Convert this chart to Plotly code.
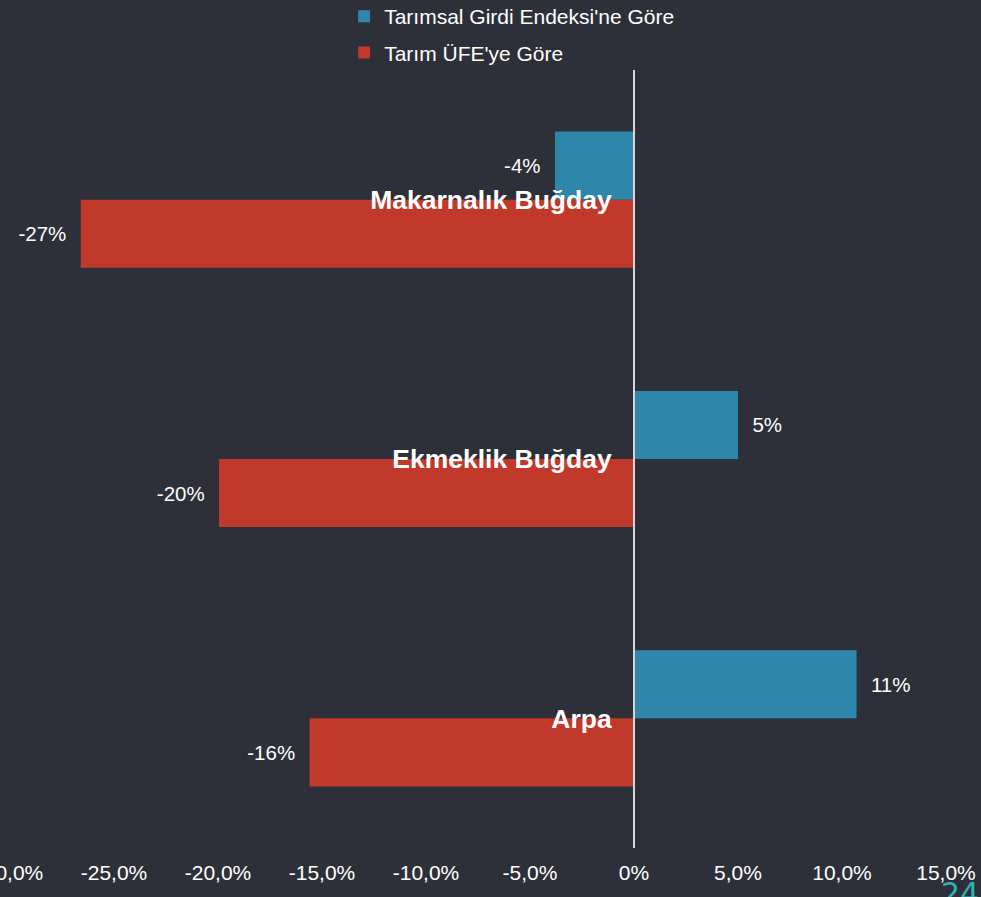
import plotly.graph_objects as go

categories = ["Makarnalık Buğday", "Ekmeklik Buğday", "Arpa"]
series_names = ["Tarımsal Girdi Endeksi'ne Göre", "Tarım ÜFE'ye Göre"]
girdi_values = [-3.8, 5.0, 10.7]
ufe_values = [-26.6, -19.95, -15.6]
tick_vals = [-30, -25, -20, -15, -10, -5, 0, 5, 10, 15]
tick_text = ["-30,0%", "-25,0%", "-20,0%", "-15,0%", "-10,0%", "-5,0%", "0%", "5,0%", "10,0%", "15,0%"]
page_number = "24"

BG = "#2d3038"
BLUE = "#2e87ab"
RED = "#c0392b"
FONT = "Liberation Sans, Arial, sans-serif"
PAD = "\u00a0\u00a0"


def labels(vals):
    out = []
    for v in vals:
        s = f"{v:.0f}%"
        out.append(s + PAD if v < 0 else PAD + s)
    return out


fig = go.Figure()
for name, vals, col, grp in [(series_names[0], girdi_values, BLUE, "a"),
                             (series_names[1], ufe_values, RED, "b")]:
    fig.add_trace(go.Bar(
        y=categories, x=vals, orientation="h", name=name,
        marker=dict(color=col, line=dict(width=0)),
        text=labels(vals), textposition="outside", cliponaxis=False,
        textfont=dict(color="white", size=20.5, family=FONT),
        legendgroup=grp,
    ))

xr = [-30.001, 15.001]
fig.update_layout(
    width=981, height=897,
    paper_bgcolor=BG, plot_bgcolor=BG,
    margin=dict(l=10, r=35, t=70, b=49, autoexpand=False),
    barmode="group", bargap=0.475, bargroupgap=0,
    font=dict(family=FONT, color="white", size=21),
    showlegend=True,
    legend=dict(x=0.357, xanchor="left", y=1.095, yref="paper", yanchor="top",
                bgcolor="rgba(0,0,0,0)", font=dict(size=21, color="white"),
                traceorder="grouped", tracegroupgap=6),
    xaxis=dict(range=xr, tickvals=tick_vals, ticktext=tick_text, showgrid=False,
               zeroline=False, showline=False, ticks="", ticklabeloverflow="allow",
               ticklabelstandoff=10,
               tickfont=dict(size=21, color="white")),
    yaxis=dict(autorange="reversed", anchor="free", position=(0 - xr[0]) / (xr[1] - xr[0]),
               showline=True, linecolor="#d6d6d6", linewidth=2, showgrid=False,
               ticks="", ticklabelstandoff=16,
               tickfont=dict(size=26.5, color="white", family=FONT, weight="bold")),
)

fig.add_annotation(text=page_number, xref="paper", yref="paper", x=1.0, y=-0.034,
                   xanchor="left", yanchor="top", showarrow=False, xshift=-7,
                   font=dict(size=30, color="#2fb3b3", family="DejaVu Sans"))

fig.write_html("out.html", config={"displayModeBar": False},
               post_script="document.body.style.margin='0';document.body.style.background='#2d3038';")
